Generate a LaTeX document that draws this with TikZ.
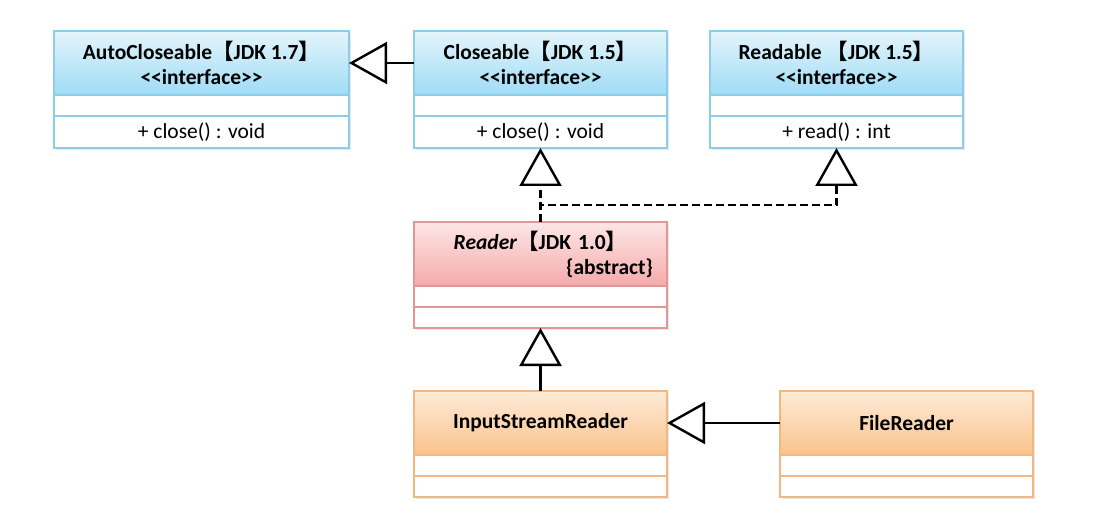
\documentclass[tikz,border=0pt]{standalone}
\usepackage{fontspec}
\setmainfont{Carlito}
\newfontfamily\cjk{Noto Sans CJK SC}
\usetikzlibrary{arrows.meta,positioning,shadows}

\definecolor{ifline}{HTML}{8CCDE8}
\definecolor{iftop}{HTML}{E4F5FC}
\definecolor{ifbot}{HTML}{9FDCF5}
\definecolor{abline}{HTML}{E39696}
\definecolor{abtop}{HTML}{FDE6E6}
\definecolor{abbot}{HTML}{F6AAAA}
\definecolor{clline}{HTML}{F2B880}
\definecolor{cltop}{HTML}{FEEBD8}
\definecolor{clbot}{HTML}{FAC28C}

\newcommand{\lbk}{{\cjk\bfseries 【}}
\newcommand{\rbk}{{\cjk\bfseries 】}}
\newcommand{\stereo}{<\kern0pt<interface>\kern0pt>}

\tikzset{
  txt/.style={font=\fontsize{21.5}{25}\selectfont},
  cls/.style={draw=#1, line width=1.2pt, outer sep=0pt, inner sep=0pt,
    minimum width=253pt, txt,
    drop shadow={shadow xshift=2pt, shadow yshift=-2pt, fill=black!18}},
  ihead/.style={cls=ifline, top color=iftop, bottom color=ifbot,
    minimum height=64pt, align=center, font=\fontsize{21.5}{25}\selectfont\bfseries},
  ahead/.style={cls=abline, top color=abtop, bottom color=abbot,
    minimum height=64pt, align=center, text width=225pt,
    font=\fontsize{21.5}{25}\selectfont\bfseries},
  chead/.style={cls=clline, top color=cltop, bottom color=clbot,
    minimum height=64pt, font=\fontsize{21.5}{25}\selectfont\bfseries},
  row/.style={cls=#1, fill=white, minimum height=21pt},
  gen/.style={line width=2.4pt, -{Triangle[open, length=38pt, width=42pt]}},
  real/.style={gen, dash pattern=on 8pt off 4pt}
}

\begin{document}
\begin{tikzpicture}[x=1pt, y=1pt]
  \useasboundingbox (0,0) rectangle (1106,-521);

  % interfaces
  \node[ihead, minimum width=295pt] (auto) at (201.5,-63)
    {AutoCloseable\lbk JDK 1.7\rbk\\\stereo};
  \node[row=ifline, minimum width=295pt, below=0pt of auto] (auto_a) {};
  \node[row=ifline, minimum width=295pt, minimum height=32pt, below=0pt of auto_a] (auto_o)
    {+ close() : void};

  \node[ihead, right=65pt of auto] (close)
    {Closeable\lbk JDK 1.5\rbk\\\stereo};
  \node[row=ifline, below=0pt of close] (close_a) {};
  \node[row=ifline, minimum height=32pt, below=0pt of close_a] (close_o)
    {+ close() : void};

  \node[ihead, right=43pt of close] (read)
    {Readable \lbk JDK 1.5\rbk\\\stereo};
  \node[row=ifline, below=0pt of read] (read_a) {};
  \node[row=ifline, minimum height=32pt, below=0pt of read_a] (read_o)
    {+ read() : int};

  % abstract class
  \node[ahead, below=74pt of close_o] (reader)
    {\textit{Reader}\lbk JDK 1.0\rbk\\\hspace*{0pt plus 1fill}\{abstract\}};
  \node[row=abline, below=0pt of reader] (reader_a) {};
  \node[row=abline, below=0pt of reader_a] (reader_o) {};

  % classes
  \node[chead, below=63pt of reader_o] (isr) {InputStreamReader};
  \node[row=clline, below=0pt of isr] (isr_a) {};
  \node[row=clline, below=0pt of isr_a] (isr_o) {};

  \node[chead, right=113pt of isr] (file) {FileReader};
  \node[row=clline, below=0pt of file] (file_a) {};
  \node[row=clline, below=0pt of file_a] (file_o) {};

  \draw[gen] (close) -- (auto);
  \draw[real] (reader) -- (close_o);
  \draw[real] (reader.north) -- ++(0,17) -| (read_o.south);
  \draw[gen] (isr) -- (reader_o);
  \draw[gen] (file) -- (isr);
\end{tikzpicture}
\end{document}
